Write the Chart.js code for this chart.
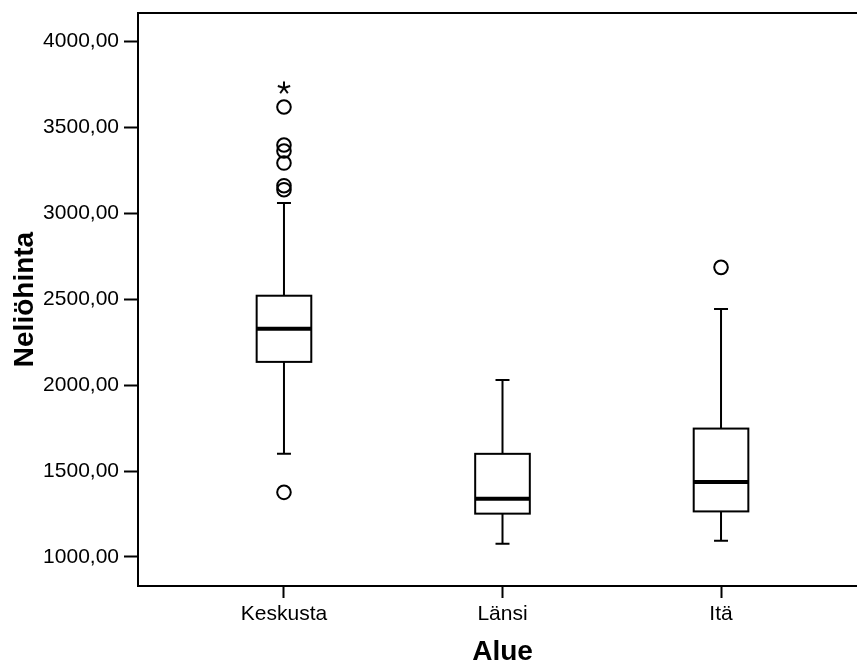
<!DOCTYPE html>
<html>
<head>
<meta charset="utf-8">
<script src="https://cdn.jsdelivr.net/npm/chart.js@4/dist/chart.umd.min.js"></script>
<style>
    html, body { margin: 0; padding: 0; background: #fff; overflow: hidden; }
    #wrap { width: 880px; height: 665px; }
</style>
</head>
<body>
<div id="wrap"><canvas id="myChart" width="880" height="665"></canvas></div>
<script>
// box plot values per area
const categories = ['Keskusta', 'Länsi', 'Itä'];
const whiskerLow = [1600, 1077, 1095];
const q1 = [2135, 1252, 1265];
const median = [2328, 1339, 1436];
const q3 = [2520, 1600, 1747];
const whiskerHigh = [3060, 2030, 2443];

// outliers (circles) and extremes (stars)
const outlierCat = [0, 0, 0, 0, 0, 0, 0, 2];
const outlierVal = [1376, 3137, 3160, 3292, 3362, 3397, 3618, 2685];
const extremeCat = [0];
const extremeVal = [3729];

const yTicks = [1000, 1500, 2000, 2500, 3000, 3500, 4000];

// five-armed asterisk like the SPSS extreme marker
function starMarker() {
    const c = document.createElement('canvas');
    c.width = 16;
    c.height = 16;
    const g = c.getContext('2d');
    g.strokeStyle = '#000';
    g.lineWidth = 2;
    g.beginPath();
    for (let k = 0; k < 5; k++) {
        const a = -Math.PI / 2 + k * 2 * Math.PI / 5;
        g.moveTo(8, 8);
        g.lineTo(8 + 6.5 * Math.cos(a), 8 + 6.5 * Math.sin(a));
    }
    g.stroke();
    return c;
}

const boxPlugin = {
    id: 'boxes',
    beforeDatasetsDraw(chart) {
        const ctx = chart.ctx;
        const x = chart.scales.x;
        const y = chart.scales.y;
        const half = 0.125;
        const capHalf = 0.032;
        ctx.save();
        ctx.strokeStyle = '#000';
        categories.forEach((c, i) => {
            const cx = x.getPixelForValue(i);
            const left = x.getPixelForValue(i - half);
            const right = x.getPixelForValue(i + half);
            // whiskers
            ctx.lineWidth = 2;
            ctx.beginPath();
            ctx.moveTo(cx, y.getPixelForValue(whiskerHigh[i]));
            ctx.lineTo(cx, y.getPixelForValue(q3[i]));
            ctx.moveTo(cx, y.getPixelForValue(q1[i]));
            ctx.lineTo(cx, y.getPixelForValue(whiskerLow[i]));
            ctx.stroke();
            // caps
            ctx.beginPath();
            [whiskerHigh[i], whiskerLow[i]].forEach(v => {
                ctx.moveTo(x.getPixelForValue(i - capHalf), y.getPixelForValue(v));
                ctx.lineTo(x.getPixelForValue(i + capHalf), y.getPixelForValue(v));
            });
            ctx.stroke();
            // box
            const top = y.getPixelForValue(q3[i]);
            const bottom = y.getPixelForValue(q1[i]);
            ctx.fillStyle = '#fff';
            ctx.fillRect(left, top, right - left, bottom - top);
            ctx.strokeRect(left, top, right - left, bottom - top);
            // median
            ctx.lineWidth = 4;
            ctx.beginPath();
            ctx.moveTo(left, y.getPixelForValue(median[i]));
            ctx.lineTo(right, y.getPixelForValue(median[i]));
            ctx.stroke();
        });
        ctx.restore();
    },
    afterDraw(chart) {
        const a = chart.chartArea;
        const ctx = chart.ctx;
        ctx.save();
        ctx.strokeStyle = '#000';
        ctx.lineWidth = 2;
        ctx.beginPath();
        ctx.moveTo(a.left, a.top);
        ctx.lineTo(a.right, a.top);
        ctx.stroke();
        ctx.restore();
    }
};

const ctx = document.getElementById('myChart').getContext('2d');
new Chart(ctx, {
    type: 'scatter',
    data: {
        datasets: [
            {
                label: 'Outliers',
                data: outlierCat.map((c, i) => ({ x: c, y: outlierVal[i] })),
                pointStyle: 'circle',
                pointRadius: 6.8,
                borderColor: '#000',
                borderWidth: 2,
                backgroundColor: 'rgba(0,0,0,0)'
            },
            {
                label: 'Extremes',
                data: extremeCat.map((c, i) => ({ x: c, y: extremeVal[i] })),
                pointStyle: starMarker(),
                pointRadius: 7,
                borderColor: '#000'
            }
        ]
    },
    options: {
        responsive: false,
        animation: false,
        layout: {
            padding: { top: 13, right: 13, left: 0, bottom: 0 }
        },
        plugins: {
            legend: { display: false },
            tooltip: { enabled: false }
        },
        scales: {
            x: {
                type: 'linear',
                min: -0.668,
                max: 2.668,
                afterBuildTicks: axis => { axis.ticks = categories.map((c, i) => ({ value: i })); },
                afterFit: axis => {
                    axis.height = 79;
                    axis.paddingLeft = 0;
                    axis.paddingRight = 0;
                },
                ticks: {
                    color: '#000',
                    padding: 4,
                    font: { family: 'Liberation Sans, Arial', size: 21 },
                    callback: value => categories[value]
                },
                grid: {
                    drawOnChartArea: false,
                    drawTicks: true,
                    tickLength: 12,
                    tickColor: '#000',
                    tickWidth: 2
                },
                border: { display: true, color: '#000', width: 2 },
                title: {
                    display: true,
                    text: 'Alue',
                    color: '#000',
                    padding: { top: 0, bottom: -1 },
                    font: { family: 'Liberation Sans, Arial', size: 28, weight: 'bold', lineHeight: 1 }
                }
            },
            y: {
                min: 831,
                max: 4165,
                afterBuildTicks: axis => { axis.ticks = yTicks.map(v => ({ value: v })); },
                afterFit: axis => {
                    axis.width = 138;
                    axis.paddingTop = 0;
                    axis.paddingBottom = 0;
                },
                ticks: {
                    color: '#000',
                    padding: 5,
                    font: { family: 'Liberation Sans, Arial', size: 21 },
                    callback: value => value.toFixed(2).replace('.', ',')
                },
                grid: {
                    drawOnChartArea: false,
                    drawTicks: true,
                    tickLength: 14,
                    tickColor: '#000',
                    tickWidth: 2
                },
                border: { display: true, color: '#000', width: 2 },
                title: {
                    display: true,
                    text: 'Neliöhinta',
                    color: '#000',
                    padding: { top: 11, bottom: 0 },
                    font: { family: 'Liberation Sans, Arial', size: 28, weight: 'bold', lineHeight: 1 }
                }
            }
        }
    },
    plugins: [boxPlugin]
});
</script>
</body>
</html>
